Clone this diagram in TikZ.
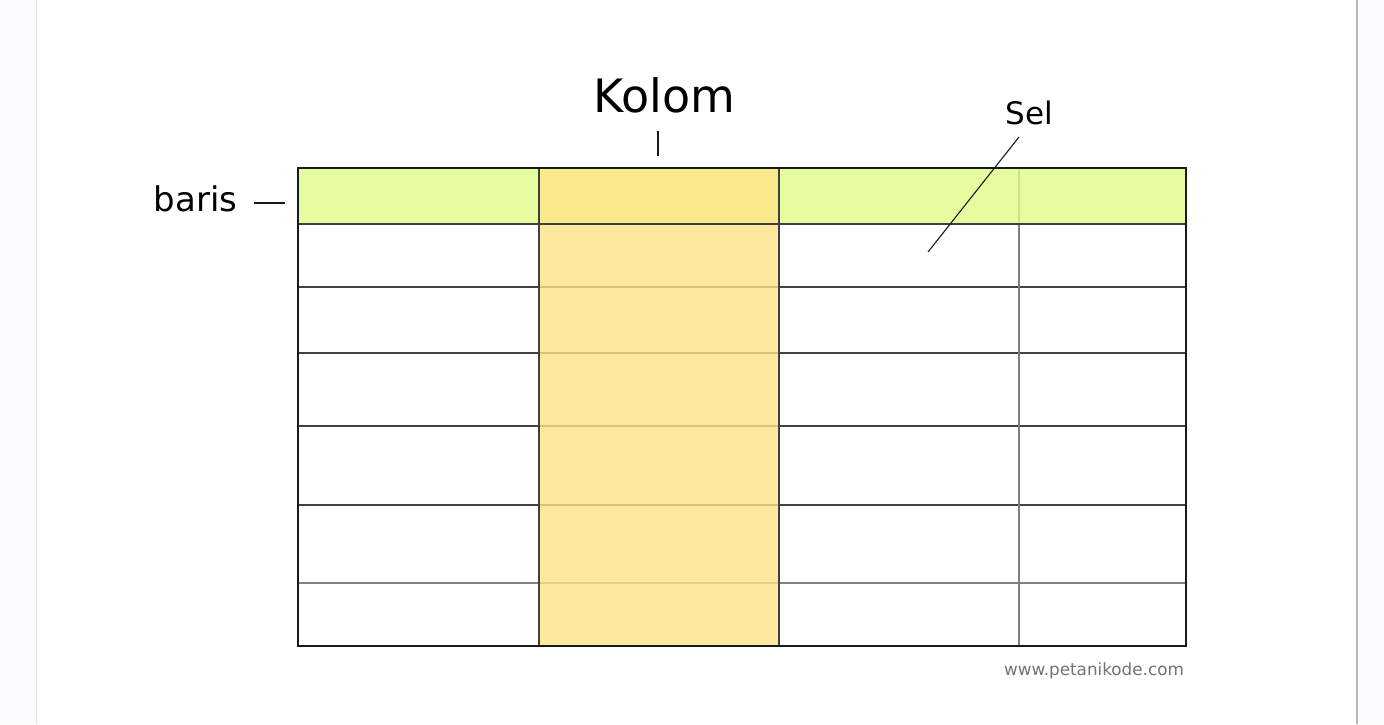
\documentclass[tikz,border=0pt]{standalone}
\usepackage{fontspec}
\setmainfont{DejaVu Sans}
\begin{document}
\begin{tikzpicture}[x=1pt,y=-1pt,
  gridline/.style={draw=black!75,line width=1.1pt},
  softline/.style={draw=black!50,line width=1.1pt},
  frame/.style={draw=black!90,line width=1.8pt},
  lead/.style={draw=black!90,line width=1.1pt},
  tint/.style={fill opacity=0.8},
  lbl/.style={inner sep=0pt,anchor=base,text=black}]
% page and side strips
\useasboundingbox (0,0) rectangle (1384,724);
\fill[white] (0,0) rectangle (1384,724);
\fill[black!2!blue!1] (0,0) rectangle (36,724);
\fill[black!2!blue!1] (1357,0) rectangle (1384,724);
\draw[black!12,line width=0.8pt] (36.5,0) -- (36.5,724);
\draw[black!28,line width=1.2pt] (1357,0) -- (1357,724);
% grid lines underneath the tinted areas
\foreach \y in {287,353,426,505} \draw[gridline] (298,\y) -- (1186,\y);
\draw[softline] (298,583) -- (1186,583);
\draw[softline] (1019,168) -- (1019,646);
% translucent header row and column
\definecolor{rowgreen}{HTML}{E2FC87}
\definecolor{colyellow}{HTML}{FCE488}
\definecolor{overlap}{HTML}{F8E46D}
\fill[rowgreen,tint] (298,168) rectangle (539,224);
\fill[rowgreen,tint] (779,168) rectangle (1186,224);
\fill[overlap,tint] (539,168) rectangle (779,224);
\fill[colyellow,tint] (539,224) rectangle (779,646);
% lines drawn on top
\draw[gridline] (298,224) -- (1186,224);
\draw[gridline] (539,168) -- (539,646);
\draw[gridline] (779,168) -- (779,646);
\draw[frame] (298,168) rectangle (1186,646);
% labels and leader lines
\node[lbl,font=\fontsize{46}{50}\selectfont] (kolom) at (664.5,112) {Kolom};
\coordinate (kolomA) at (658,131);
\coordinate (kolomB) at (658,156);
\draw[lead] (kolomA) -- (kolomB);
\node[lbl,font=\fontsize{34}{40}\selectfont] (baris) at (195.5,211) {baris};
\coordinate (barisA) at (254,203);
\coordinate (barisB) at (285,203);
\draw[lead] (barisA) -- (barisB);
\node[lbl,font=\fontsize{31}{36}\selectfont] (sel) at (1029,124) {Sel};
\coordinate (selA) at (1019,137);
\coordinate (selB) at (928,252);
\draw[lead] (selA) -- (selB);
\node[lbl,font=\fontsize{16.8}{20}\selectfont,text=black!55] (site) at (1094,675) {www.petanikode.com};
\end{tikzpicture}
\end{document}
